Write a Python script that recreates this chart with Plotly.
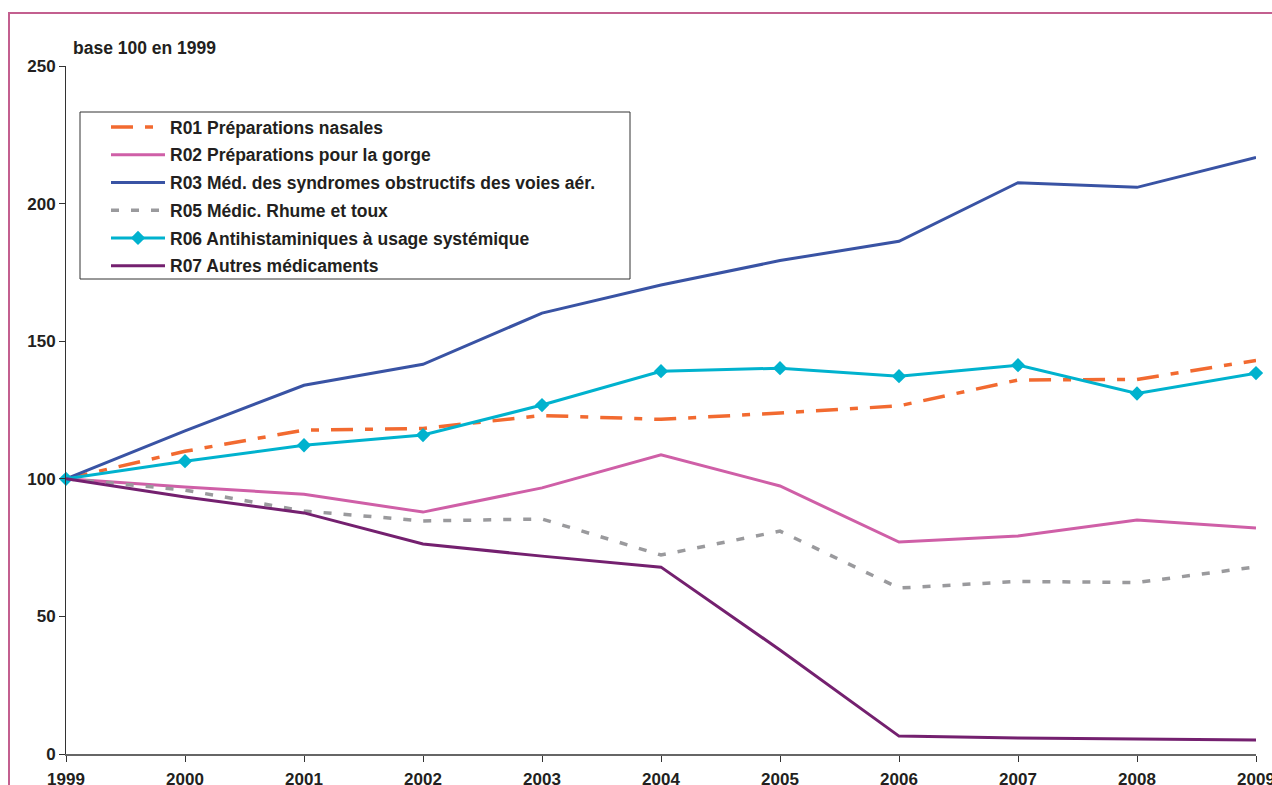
import plotly.graph_objects as go

years = [1999, 2000, 2001, 2002, 2003, 2004, 2005, 2006, 2007, 2008, 2009]

r01_nasales = [100, 110.0, 117.7, 118.3, 123.0, 121.6, 123.9, 126.5, 135.9, 136.1, 143.0]
r02_gorge = [100, 97.0, 94.4, 87.9, 96.7, 108.7, 97.4, 77.0, 79.2, 85.0, 82.1]
r03_obstructifs = [100, 117.4, 134.0, 141.6, 160.2, 170.4, 179.3, 186.3, 207.6, 205.9, 216.8]
r05_rhume = [100, 95.9, 88.3, 84.7, 85.4, 72.3, 81.0, 60.3, 62.7, 62.3, 68.0]
r06_antihist = [100, 106.4, 112.2, 115.9, 126.8, 139.1, 140.2, 137.3, 141.3, 131.0, 138.4]
r07_autres = [100, 93.4, 87.6, 76.3, 71.9, 67.9, 37.8, 6.5, 5.8, 5.5, 5.1]

names = [
    "R01 Préparations nasales",
    "R02 Préparations pour la gorge",
    "R03 Méd. des syndromes obstructifs des voies aér.",
    "R05 Médic. Rhume et toux",
    "R06 Antihistaminiques à usage systémique",
    "R07 Autres médicaments",
]

FONT = "Liberation Sans, Arial, Helvetica, sans-serif"
TXT = "#231F20"

fig = go.Figure()

fig.add_trace(go.Scatter(x=years, y=r01_nasales, name=names[0], legendgroup="r01", mode="lines",
                         line=dict(color="#F26A30", width=3.5, dash="22px,12px,8px,12px")))
fig.add_trace(go.Scatter(x=years, y=r02_gorge, name=names[1], legendgroup="r02", mode="lines",
                         line=dict(color="#CF5FA7", width=3)))
fig.add_trace(go.Scatter(x=years, y=r03_obstructifs, name=names[2], legendgroup="r03", mode="lines",
                         line=dict(color="#3953A4", width=3)))
fig.add_trace(go.Scatter(x=years, y=r05_rhume, name=names[3], legendgroup="r05", mode="lines",
                         line=dict(color="#9A9A9D", width=3.5, dash="8px,12px")))
fig.add_trace(go.Scatter(x=years, y=r06_antihist, name=names[4], legendgroup="r06",
                         mode="lines+markers",
                         line=dict(color="#00B2CE", width=3),
                         marker=dict(symbol="diamond", size=11, color="#00B2CE"),
                         cliponaxis=False))
fig.add_trace(go.Scatter(x=years, y=r07_autres, name=names[5], legendgroup="r07", mode="lines",
                         line=dict(color="#74206F", width=3)))

# pixel geometry of the plotting area, and helpers to convert to paper units
L, R, T, B = 66, 1256, 66, 754
pw, ph = R - L, B - T


def px(x):
    return (x - L) / pw


def py(y):
    return (B - y) / ph


# outer frame and legend box
fig.add_shape(type="rect", xref="paper", yref="paper",
              x0=px(9), x1=px(1300), y0=py(810), y1=py(13),
              line=dict(color="#C35F8F", width=2), fillcolor="rgba(0,0,0,0)", layer="below")
fig.add_shape(type="rect", xref="paper", yref="paper",
              x0=px(80), x1=px(630), y0=py(279), y1=py(112),
              line=dict(color="#333333", width=1), fillcolor="rgba(0,0,0,0)", layer="below")

fig.add_annotation(text="base 100 en 1999", xref="paper", yref="paper",
                   x=px(71), y=py(48), xanchor="left", yanchor="middle", showarrow=False,
                   font=dict(family=FONT, size=17.5, color=TXT, weight="bold"))

fig.update_layout(
    width=1272, height=785,
    margin=dict(l=L, r=1272 - R, t=T, b=785 - B, autoexpand=False),
    paper_bgcolor="white", plot_bgcolor="white",
    font=dict(family=FONT, size=17, color=TXT, weight="bold"),
    showlegend=True,
    legend=dict(x=px(106), y=py(109), xanchor="left", yanchor="top",
                bgcolor="rgba(0,0,0,0)", borderwidth=0,
                font=dict(family=FONT, size=17.5, color=TXT, weight="bold"),
                itemwidth=54, tracegroupgap=2, traceorder="grouped"),
    xaxis=dict(range=[1999, 2009], tickmode="array", tickvals=years,
               showgrid=False, zeroline=False, showline=True, automargin=False,
               linecolor="#666666", linewidth=2, ticks="outside", ticklen=6,
               tickcolor="#333333", tickwidth=1, ticklabelstandoff=3,
               ticklabeloverflow="allow",
               tickfont=dict(family=FONT, size=17, color=TXT, weight="bold")),
    yaxis=dict(range=[0, 250], dtick=50, showgrid=False, zeroline=False,
               showline=True, linecolor="#333333", linewidth=1, automargin=False,
               ticks="outside", ticklen=6, tickcolor="#333333",
               tickfont=dict(family=FONT, size=17, color=TXT, weight="bold")),
)

fig.write_html("out.html")
